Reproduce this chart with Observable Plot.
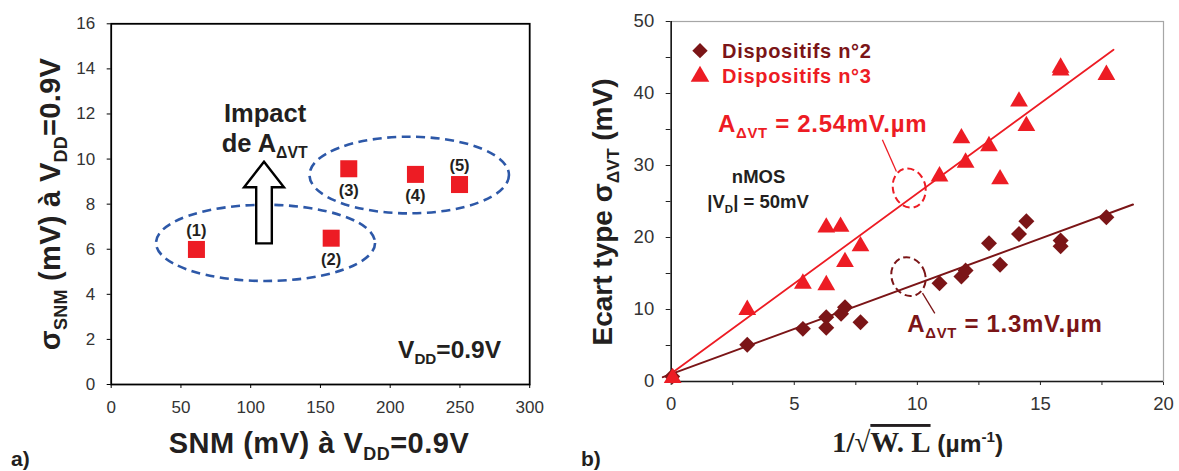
<!DOCTYPE html>
<html><head><meta charset="utf-8">
<script src="https://cdn.jsdelivr.net/npm/d3@7"></script>
<script src="https://cdn.jsdelivr.net/npm/@observablehq/plot@0.6"></script>
<style>
html,body{margin:0;padding:0;background:#fff;}
#wrap{position:relative;width:1179px;height:471px;overflow:hidden;font-family:"Liberation Sans",Arial,sans-serif;}
#a,#b{position:absolute;top:0;}
#a{left:0}#b{left:580px}
svg{display:block;overflow:visible}
#wrap svg g[aria-label$="tick label"] text{fill:#333}
</style></head><body>
<div id="wrap"><div id="a"></div><div id="b"></div></div>
<script>
// ---------- Panel a) data ----------
const cellLabels = ["(1)", "(2)", "(3)", "(4)", "(5)"];
const cellSNM    = [61.1, 157.7, 170.3, 218.1, 249.7];
const cellSigma  = [5.99, 6.49, 9.57, 9.32, 8.87];
const cellLabelAbove = [true, false, false, false, true];
const aTicksX = [0, 50, 100, 150, 200, 250, 300];
const aTicksY = [0, 2, 4, 6, 8, 10, 12, 14, 16];
// annotation shapes (data units)
const ringCx = [111, 214], ringCy = [6.26, 9.27], ringRx = [78.5, 71.5], ringRy = [1.69, 1.70];
const arrowX = [104.3, 104.3, 95.6, 109.9, 124.2, 115.5, 115.5];
const arrowY = [6.24, 8.73, 8.73, 9.86, 8.73, 8.73, 6.24];

// ---------- Panel b) data ----------
const dev2X = [0.04, 3.09, 5.35, 6.30, 6.30, 6.90, 7.06, 7.69, 10.9, 11.79, 11.96, 12.91, 13.36, 14.13, 14.43, 15.82, 15.82, 17.68];
const dev2Y = [0.7, 5.09, 7.31, 8.94, 7.45, 9.4, 10.3, 8.24, 13.66, 14.58, 15.42, 19.2, 16.2, 20.5, 22.27, 19.58, 18.8, 22.8];
const dev3X = [0.06, 3.09, 5.35, 6.30, 6.30, 6.88, 7.06, 7.69, 10.9, 11.79, 11.96, 12.91, 13.36, 14.13, 14.43, 15.82, 15.82, 17.68];
const dev3Y = [0.5, 9.95, 13.6, 13.4, 21.4, 21.5, 16.6, 18.8, 28.5, 33.8, 30.4, 32.7, 28.1, 38.9, 35.5, 43.6, 43.2, 42.6];
const fit2X = [-0.34, 18.76], fit2Y = [0.6, 24.58];
const fit3X = [0, 17.97], fit3Y = [1.1, 46.07];
const bTicksX = [0, 2.5, 5, 7.5, 10, 12.5, 15, 17.5, 20];
const bTicksY = [0, 5, 10, 15, 20, 25, 30, 35, 40, 45, 50];
const seriesNames = ["Dispositifs n°2", "Dispositifs n°3"];
const bRingCx = [9.69, 9.66], bRingCy = [26.8, 14.5], bRingRx = [0.66, 0.68], bRingRy = [2.75, 2.75], bRingRot = [-15, -22];
const leadX1 = [8.6, 10.23], leadY1 = [33.5, 12.2], leadX2 = [9.17, 10.73], leadY2 = [29.1, 9.4];

const RED = "#ed1c24", DARK = "#7b1517", BLUE = "#2d58a8";
const SANS = "Liberation Sans, Arial, sans-serif";
const SERIF = "Liberation Serif, DejaVu Serif, serif";

const cells = cellLabels.map((l, i) => ({label: l, snm: cellSNM[i], sigma: cellSigma[i], above: cellLabelAbove[i]}));
const dev2 = dev2X.map((x, i) => ({x, y: dev2Y[i]}));
const dev3 = dev3X.map((x, i) => ({x, y: dev3Y[i]}));
const fit2 = fit2X.map((x, i) => ({x, y: fit2Y[i]}));
const fit3 = fit3X.map((x, i) => ({x, y: fit3Y[i]}));

function richText(parent, parts, o) {
  const size = o.size;
  const t = parent.append("text")
    .attr("font-size", size).attr("font-weight", o.weight || "bold")
    .attr("fill", o.fill || "#000").attr("text-anchor", o.anchor || "start")
    .attr("font-family", o.family || SANS);
  if (o.spacing) t.attr("letter-spacing", o.spacing);
  if (o.rotate) t.attr("transform", `translate(${o.x},${o.y}) rotate(${o.rotate})`);
  else t.attr("x", o.x).attr("y", o.y);
  let shift = 0;
  for (const p of parts) {
    const s = typeof p === "string" ? {t: p} : p;
    const ts = t.append("tspan").text(s.t);
    let target = 0;
    const ps = s.size || size;
    if (s.size) ts.attr("font-size", s.size);
    if (s.family) ts.attr("font-family", s.family);
    if (s.over) ts.style("text-decoration", "overline");
    if (s.sub) { ts.attr("font-size", ps * 0.62); target = ps * 0.24; }
    if (s.sup) { ts.attr("font-size", ps * 0.62); target = -ps * 0.4; }
    ts.attr("dy", target - shift); shift = target;
  }
  return t;
}

// ================= Panel a =================
const plotA = Plot.plot({
  width: 560, height: 471,
  marginLeft: 110.7, marginRight: 30.8, marginTop: 23.3, marginBottom: 87,
  style: {fontFamily: SANS, fontSize: "17px", color: "#000", background: "#fff", overflow: "visible"},
  x: {domain: [0, 300], ticks: aTicksX, tickSize: 4, tickPadding: 12, label: null},
  y: {domain: [0, 16], ticks: aTicksY, tickSize: 4, tickPadding: 12, label: null},
  marks: [
    Plot.frame({stroke: "#000", strokeWidth: 1.8}),
    Plot.dot(cells, {x: "snm", y: "sigma", symbol: "square", r: 9.6, fill: RED, stroke: "none"}),
    Plot.text(cells.filter(d => d.above), {x: "snm", y: "sigma", text: "label", dy: -19, fontSize: 16.5, fontWeight: "bold", fill: "#231f20"}),
    Plot.text(cells.filter(d => !d.above), {x: "snm", y: "sigma", text: "label", dy: 21.5, fontSize: 16.5, fontWeight: "bold", fill: "#231f20"})
  ]
});
document.getElementById("a").append(plotA);
{
  const sx = plotA.scale("x"), sy = plotA.scale("y");
  const X = v => sx.apply(v), Y = v => sy.apply(v);
  const g = d3.select(plotA).append("g");
  g.selectAll("ellipse").data(d3.range(ringCx.length)).join("ellipse")
    .attr("cx", i => X(ringCx[i])).attr("cy", i => Y(ringCy[i]))
    .attr("rx", i => X(ringCx[i] + ringRx[i]) - X(ringCx[i]))
    .attr("ry", i => Y(ringCy[i] - ringRy[i]) - Y(ringCy[i]))
    .attr("fill", "none").attr("stroke", BLUE).attr("stroke-width", 2.6).attr("stroke-dasharray", "9,5.5");
  g.append("polygon")
    .attr("points", arrowX.map((x, i) => `${X(x)},${Y(arrowY[i])}`).join(" "))
    .attr("fill", "#fff").attr("stroke", "#000").attr("stroke-width", 2.4).attr("stroke-linejoin", "miter");
  richText(g, ["Impact"], {x: X(110.7), y: Y(11.64), size: 25.5, anchor: "middle", fill: "#231f20"});
  richText(g, ["de A", {t: "ΔVT", sub: true}], {x: X(110.4), y: Y(10.31), size: 25.5, anchor: "middle", fill: "#231f20"});
  richText(g, ["V", {t: "DD", sub: true}, "=0.9V"], {x: X(206), y: Y(1.15), size: 24.5, fill: "#231f20"});
  // axis titles & panel letter
  richText(g, ["SNM (mV) à V", {t: "DD", sub: true}, "=0.9V"], {x: 319, y: 453, size: 29, spacing: 0.5, anchor: "middle", fill: "#231f20"});
  richText(g, ["σ", {t: "SNM", sub: true}, " (mV) à V", {t: "DD", sub: true}, "=0.9V"], {x: 60, y: 204, size: 29, spacing: 0.3, anchor: "middle", rotate: -90, fill: "#231f20"});
  richText(g, ["a)"], {x: 11, y: 466, size: 21, fill: "#231f20"});
}

// ================= Panel b =================
const plotB = Plot.plot({
  width: 599, height: 471,
  marginLeft: 90.7, marginRight: 16, marginTop: 21, marginBottom: 90,
  style: {fontFamily: SANS, fontSize: "18.5px", color: "#222", background: "#fff", overflow: "visible"},
  x: {domain: [0, 20], ticks: bTicksX, tickSize: 4, tickPadding: 11, tickFormat: d => d % 5 === 0 ? String(d) : "", label: null},
  y: {domain: [0, 50], ticks: bTicksY, tickSize: 5, tickPadding: 12, tickFormat: d => d % 10 === 0 ? String(d) : "", label: null},
  marks: [
    Plot.frame({stroke: "#a6a6a6", strokeWidth: 1.2}),
    Plot.ruleX([0], {stroke: "#1a1a1a", strokeWidth: 1.6}),
    Plot.ruleY([0], {stroke: "#1a1a1a", strokeWidth: 1.6}),
    Plot.line(fit2, {x: "x", y: "y", stroke: DARK, strokeWidth: 2}),
    Plot.line(fit3, {x: "x", y: "y", stroke: RED, strokeWidth: 1.8}),
    Plot.dot(dev2, {x: "x", y: "y", symbol: d3.symbolDiamond2 || "diamond", r: 7.2, fill: DARK, stroke: "none"}),
    Plot.dot(dev3, {x: "x", y: "y", symbol: "triangle", r: 6.6, fill: RED, stroke: "none"})
  ]
});
document.getElementById("b").append(plotB);
{
  const sx = plotB.scale("x"), sy = plotB.scale("y");
  const X = v => sx.apply(v), Y = v => sy.apply(v);
  const g = d3.select(plotB).append("g");
  const ringColors = [RED, DARK];
  g.selectAll("ellipse").data(d3.range(bRingCx.length)).join("ellipse")
    .attr("transform", i => `translate(${X(bRingCx[i])},${Y(bRingCy[i])}) rotate(${bRingRot[i]})`)
    .attr("rx", i => X(bRingCx[i] + bRingRx[i]) - X(bRingCx[i]))
    .attr("ry", i => Y(bRingCy[i] - bRingRy[i]) - Y(bRingCy[i]))
    .attr("fill", "none").attr("stroke", i => ringColors[i]).attr("stroke-width", 2).attr("stroke-dasharray", "7,4");
  g.selectAll("line.lead").data(d3.range(leadX1.length)).join("line")
    .attr("x1", i => X(leadX1[i])).attr("y1", i => Y(leadY1[i]))
    .attr("x2", i => X(leadX2[i])).attr("y2", i => Y(leadY2[i]))
    .attr("stroke", i => ringColors[i]).attr("stroke-width", 1.3);
  richText(g, ["A", {t: "ΔVT", sub: true}, " = 2.54mV.µm"], {x: X(1.92), y: Y(34.6), size: 24, spacing: 0.7, fill: RED});
  richText(g, ["A", {t: "ΔVT", sub: true}, " = 1.3mV.µm"], {x: X(9.61), y: Y(6.8), size: 24, spacing: 0.7, fill: DARK});
  richText(g, ["nMOS"], {x: X(3.57), y: Y(27.5), size: 18.5, anchor: "middle", fill: "#231f20"});
  richText(g, ["|V", {t: "D", sub: true}, "| = 50mV"], {x: X(3.55), y: Y(24.0), size: 18.5, anchor: "middle", fill: "#231f20"});
  // legend
  const legSyms = [d3.symbolDiamond2 || d3.symbolDiamond, d3.symbolTriangle];
  const legSizes = [150, 150];
  const legColors = [DARK, RED];
  const legY = [50.7, 76.5];
  legSyms.forEach((s, i) => {
    g.append("path").attr("d", d3.symbol(s, legSizes[i])()).attr("transform", `translate(120,${legY[i]})`).attr("fill", legColors[i]);
    richText(g, [seriesNames[i]], {x: 142, y: legY[i] + 6.8, size: 20, spacing: 0.7, fill: legColors[i]});
  });
  // axis titles & panel letter
  richText(g, ["Ecart type σ", {t: "ΔVT", sub: true}, " (mV)"], {x: 32, y: 212, size: 28, anchor: "middle", rotate: -90, fill: "#231f20"});
  richText(g, [
    {t: "1/√", family: SERIF, size: 29},
    {t: "W. L", family: SERIF, size: 29, over: true},
    " (µm", {t: "-1", sup: true}, ")"
  ], {x: 337.5, y: 452, size: 24.5, anchor: "middle", fill: "#231f20"});
  richText(g, ["b)"], {x: 1, y: 466, size: 21, fill: "#231f20"});
}
</script></body></html>
